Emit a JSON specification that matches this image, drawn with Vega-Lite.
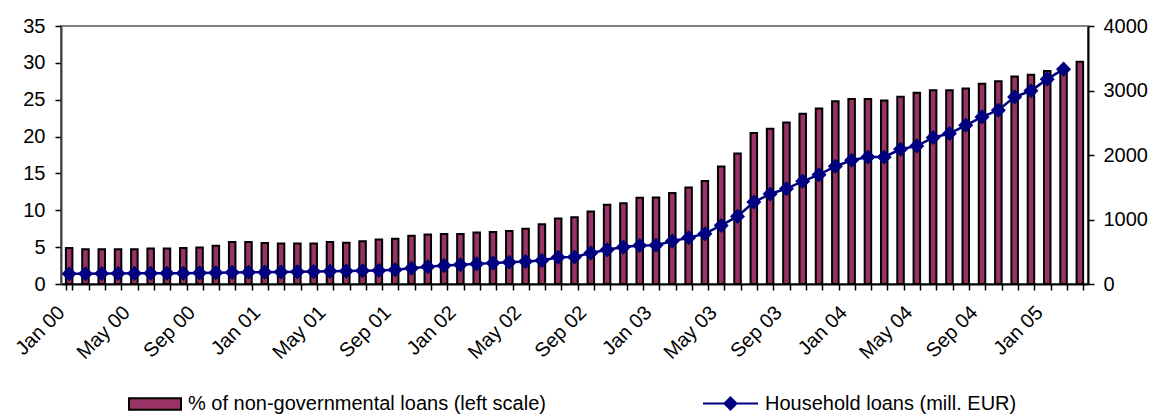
{
  "$schema": "https://vega.github.io/schema/vega-lite/v6.json",
  "width": 1027,
  "height": 258,
  "autosize": {"type": "none"},
  "padding": {"left": 61, "top": 26, "right": 65, "bottom": 130},
  "background": "white",
  "config": {
    "view": {"stroke": "#808080", "strokeWidth": 2},
    "font": "Liberation Sans",
    "axis": {"labelFont": "Liberation Sans", "labelFontSize": 20, "labelColor": "black", "grid": false, "tickColor": "black", "domainColor": "black", "tickWidth": 1.5, "domainWidth": 2, "labelOverlap": false},
    "legend": {"labelFont": "Liberation Sans", "labelFontSize": 20, "labelColor": "black", "labelLimit": 0}
  },
  "data": {"values": [
    {"m": "Jan 00", "pct": 4.9, "hh": 160},
    {"m": "Feb 00", "pct": 4.7, "hh": 160},
    {"m": "Mar 00", "pct": 4.7, "hh": 162},
    {"m": "Apr 00", "pct": 4.7, "hh": 163},
    {"m": "May 00", "pct": 4.7, "hh": 165},
    {"m": "Jun 00", "pct": 4.8, "hh": 166},
    {"m": "Jul 00", "pct": 4.8, "hh": 167},
    {"m": "Aug 00", "pct": 4.9, "hh": 168},
    {"m": "Sep 00", "pct": 4.95, "hh": 172},
    {"m": "Oct 00", "pct": 5.2, "hh": 176},
    {"m": "Nov 00", "pct": 5.7, "hh": 180},
    {"m": "Dec 00", "pct": 5.7, "hh": 182},
    {"m": "Jan 01", "pct": 5.55, "hh": 184},
    {"m": "Feb 01", "pct": 5.5, "hh": 186},
    {"m": "Mar 01", "pct": 5.5, "hh": 188},
    {"m": "Apr 01", "pct": 5.5, "hh": 192},
    {"m": "May 01", "pct": 5.7, "hh": 196},
    {"m": "Jun 01", "pct": 5.6, "hh": 200},
    {"m": "Jul 01", "pct": 5.8, "hh": 205},
    {"m": "Aug 01", "pct": 6.05, "hh": 210},
    {"m": "Sep 01", "pct": 6.15, "hh": 220},
    {"m": "Oct 01", "pct": 6.55, "hh": 245},
    {"m": "Nov 01", "pct": 6.73, "hh": 268},
    {"m": "Dec 01", "pct": 6.77, "hh": 285},
    {"m": "Jan 02", "pct": 6.77, "hh": 298},
    {"m": "Feb 02", "pct": 7.0, "hh": 312},
    {"m": "Mar 02", "pct": 7.04, "hh": 324},
    {"m": "Apr 02", "pct": 7.18, "hh": 338},
    {"m": "May 02", "pct": 7.5, "hh": 350},
    {"m": "Jun 02", "pct": 8.09, "hh": 365},
    {"m": "Jul 02", "pct": 8.9, "hh": 415},
    {"m": "Aug 02", "pct": 9.04, "hh": 418},
    {"m": "Sep 02", "pct": 9.85, "hh": 480},
    {"m": "Oct 02", "pct": 10.76, "hh": 530},
    {"m": "Nov 02", "pct": 10.94, "hh": 572},
    {"m": "Dec 02", "pct": 11.7, "hh": 598},
    {"m": "Jan 03", "pct": 11.75, "hh": 600},
    {"m": "Feb 03", "pct": 12.35, "hh": 665},
    {"m": "Mar 03", "pct": 13.1, "hh": 717},
    {"m": "Apr 03", "pct": 13.98, "hh": 780},
    {"m": "May 03", "pct": 15.93, "hh": 908},
    {"m": "Jun 03", "pct": 17.7, "hh": 1048},
    {"m": "Jul 03", "pct": 20.5, "hh": 1270},
    {"m": "Aug 03", "pct": 21.05, "hh": 1395},
    {"m": "Sep 03", "pct": 21.9, "hh": 1478},
    {"m": "Oct 03", "pct": 23.08, "hh": 1592},
    {"m": "Nov 03", "pct": 23.8, "hh": 1695},
    {"m": "Dec 03", "pct": 24.8, "hh": 1825},
    {"m": "Jan 04", "pct": 25.08, "hh": 1918},
    {"m": "Feb 04", "pct": 25.08, "hh": 1970},
    {"m": "Mar 04", "pct": 24.9, "hh": 1970},
    {"m": "Apr 04", "pct": 25.4, "hh": 2089},
    {"m": "May 04", "pct": 25.94, "hh": 2141},
    {"m": "Jun 04", "pct": 26.3, "hh": 2270},
    {"m": "Jul 04", "pct": 26.3, "hh": 2332},
    {"m": "Aug 04", "pct": 26.53, "hh": 2461},
    {"m": "Sep 04", "pct": 27.16, "hh": 2591},
    {"m": "Oct 04", "pct": 27.52, "hh": 2694},
    {"m": "Nov 04", "pct": 28.16, "hh": 2901},
    {"m": "Dec 04", "pct": 28.38, "hh": 2995},
    {"m": "Jan 05", "pct": 28.88, "hh": 3176},
    {"m": "Feb 05", "pct": 29.2, "hh": 3331},
    {"m": "Mar 05", "pct": 30.15, "hh": null}
  ]},
  "layer": [
    {
      "mark": {"type": "bar", "stroke": "black", "strokeWidth": 2},
      "encoding": {
        "x": {
          "field": "m", "type": "ordinal", "sort": null,
          "scale": {"paddingInner": 0.6, "paddingOuter": 0.3},
          "axis": {
            "title": null, "labelAngle": -45, "tickBand": "extent", "tickSize": 6,
            "labelExpr": "test(regexp('^(Jan|May|Sep)'), '' + datum.label) ? datum.label : ''",
            "labelPadding": 12, "labelOffset": -15
          }
        },
        "y": {
          "field": "pct", "type": "quantitative",
          "scale": {"domain": [0, 35], "nice": false},
          "axis": {"title": null, "values": [0,5,10,15,20,25,30,35], "tickSize": 6, "labelPadding": 10, "domainColor": "#404040"}
        },
        "fill": {
          "datum": "% of non-governmental loans (left scale)",
          "scale": {"range": ["#993366"]},
          "legend": {
            "title": null, "orient": "none", "legendX": 67, "legendY": 351,
            "symbolType": "M-1,-0.22L1,-0.22L1,0.22L-1,0.22Z", "symbolSize": 2704,
            "symbolFillColor": "#993366", "symbolStrokeColor": "black", "symbolStrokeWidth": 2, "symbolOpacity": 1,
            "labelOffset": 6, "padding": 0, "labelLimit": 0
          }
        }
      }
    },
    {
      "mark": {
        "type": "line", "strokeWidth": 2.5,
        "point": {"shape": "diamond", "size": 150, "filled": true, "fill": "#000080", "stroke": "#000080", "opacity": 1}
      },
      "encoding": {
        "x": {"field": "m", "type": "ordinal", "sort": null},
        "y": {
          "field": "hh", "type": "quantitative",
          "scale": {"domain": [0, 4000], "nice": false},
          "axis": {"title": null, "orient": "right", "values": [0,500,1000,1500,2000,2500,3000,3500,4000], "tickCount": 8, "format": "d", "tickSize": 6, "labelPadding": 9, "labelOverlap": false}
        },
        "stroke": {
          "datum": "Household loans (mill. EUR)",
          "scale": {"range": ["#000080"]},
          "legend": {
            "title": null, "orient": "none", "legendX": 641, "legendY": 349,
            "symbolType": "M-1,0L1,0M-0.22,0L0,-0.22L0.22,0L0,0.22Z", "symbolSize": 3025,
            "symbolFillColor": "#000080", "symbolStrokeColor": "#000080", "symbolStrokeWidth": 2, "symbolOpacity": 1,
            "labelOffset": 6, "padding": 0, "labelLimit": 0
          }
        }
      }
    }
  ],
  "resolve": {"scale": {"y": "independent"}}
}
